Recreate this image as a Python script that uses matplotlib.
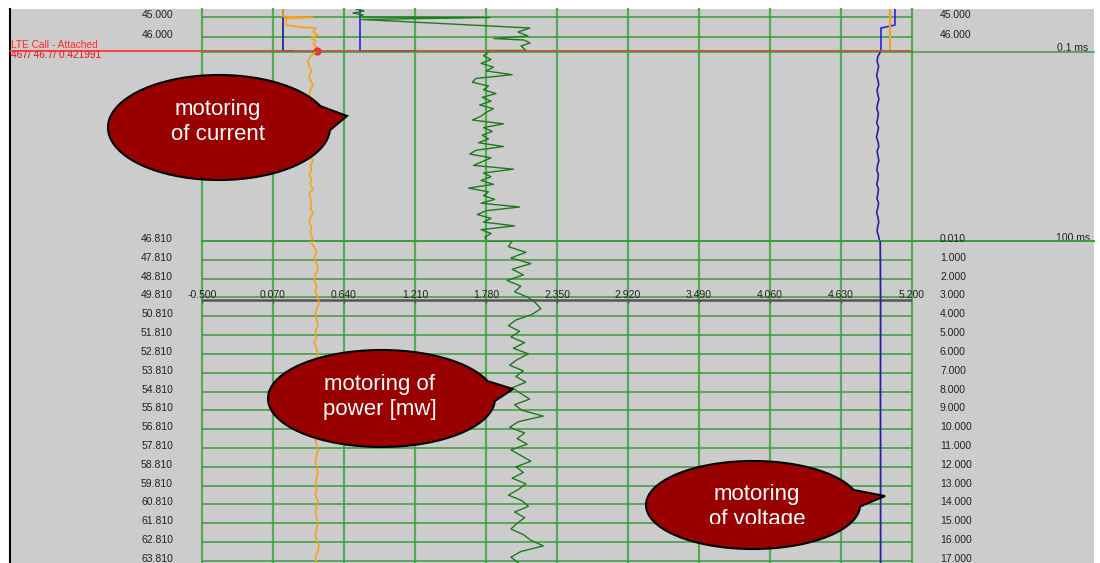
"""
Drive-test trace view: motoring of current, power and voltage
"""
import numpy as np
import matplotlib.pyplot as plt
from matplotlib.patches import Polygon, Rectangle

plt.rcParams['font.family'] = ['Liberation Sans', 'DejaVu Sans']

# ---- scales / labels ----
x_ticks = [-0.5, 0.07, 0.64, 1.21, 1.78, 2.35, 2.92, 3.49, 4.06, 4.63, 5.2]
top_ticks = [45.0, 46.0]
bot_ticks = [46.81, 47.81, 48.81, 49.81, 50.81, 51.81, 52.81, 53.81, 54.81,
             55.81, 56.81, 57.81, 58.81, 59.81, 60.81, 61.81, 62.81, 63.81]
right_labels = ['0.010', '1.000', '2.000', '3.000', '4.000', '5.000', '6.000',
                '7.000', '8.000', '9.000', '10.000', '11.000', '12.000',
                '13.000', '14.000', '15.000', '16.000', '17.000']
event_name = 'LTE Call - Attached'
event_sample = 467
event_time = 46.7
event_current = 0.421991

# ---- top section (time 44.6 .. 46.7) ----
orange_top_t = [44.59, 44.975, 45.025, 45.076, 45.41, 45.51, 45.56, 45.76,
                45.91, 46.07, 46.22, 46.37, 46.52, 46.70]
orange_top_x = [0.150, 0.150, 0.391, 0.174, 0.174, 0.287, 0.415, 0.391,
                0.431, 0.375, 0.415, 0.391, 0.415, 0.415]
green_top_t = [44.594, 44.695, 44.797, 44.898, 45.0, 45.025, 45.127, 45.558,
               45.761, 45.964, 46.091, 46.168, 46.32, 46.472, 46.70, 46.70]
green_top_x = [0.736, 0.801, 0.712, 0.793, 0.768, 1.812, 0.784, 2.133,
               2.037, 2.117, 1.844, 2.085, 2.133, 2.061, 2.101, 1.788]
blue_top_t = [44.59, 45.41, 45.56, 46.70]
blue_top_x = [5.063, 5.063, 4.951, 4.951]
blue_a_t = [44.59, 46.70, 46.70]
blue_a_x = [0.150, 0.150, 0.231]
blue_b_t = [44.59, 46.70, 46.70]
blue_b_x = [0.768, 0.768, 1.210]
orange_r_t = [44.59, 46.70]
orange_r_x = [5.023, 5.023]

# ---- zoomed section (0 .. 100 ms) ----
mid_ms_a = np.arange(0, 101, 2.5)
mid_ms_b = np.arange(0, 101, 2)
orange_mid = [0.41, 0.37, 0.35, 0.36, 0.38, 0.36, 0.37, 0.39, 0.37, 0.36,
              0.38, 0.37, 0.39, 0.36, 0.37, 0.38, 0.36, 0.38, 0.37, 0.39,
              0.38, 0.36, 0.37, 0.39, 0.37, 0.38, 0.36, 0.38, 0.37, 0.39,
              0.36, 0.37, 0.38, 0.37, 0.39, 0.37, 0.36, 0.38, 0.37, 0.38, 0.39]
blue_mid = [4.945, 4.925, 4.920, 4.932, 4.924, 4.916, 4.927, 4.933, 4.919, 4.926,
            4.934, 4.924, 4.918, 4.930, 4.925, 4.917, 4.931, 4.924, 4.915, 4.927,
            4.933, 4.920, 4.926, 4.934, 4.923, 4.918, 4.930, 4.925, 4.917, 4.931,
            4.926, 4.919, 4.932, 4.925, 4.916, 4.927, 4.933, 4.924, 4.920, 4.932, 4.940]
green_mid = [1.80, 1.76, 1.82, 1.74, 1.84, 1.78, 1.99, 1.70, 1.67, 1.80,
             1.76, 1.86, 1.75, 1.82, 1.73, 1.84, 1.78, 1.74, 1.67, 1.92,
             1.76, 1.83, 1.75, 1.80, 1.72, 1.92, 1.70, 1.65, 1.82, 1.75,
             1.68, 2.00, 1.76, 1.82, 1.74, 1.84, 1.64, 1.80, 1.76, 1.85,
             1.74, 2.05, 1.78, 1.71, 1.82, 1.76, 2.01, 1.74, 1.82, 1.77, 1.79]

# ---- bottom section (time 46.81 .. 63.9) ----
bot_t = np.round(46.81 + 0.3 * np.arange(58), 2)
orange_bot = [0.37, 0.40, 0.42, 0.40, 0.42, 0.43, 0.41, 0.40, 0.42, 0.41,
              0.43, 0.44, 0.42, 0.41, 0.42, 0.43, 0.41, 0.42, 0.40, 0.42,
              0.43, 0.41, 0.42, 0.43, 0.42, 0.41, 0.43, 0.42, 0.41, 0.42,
              0.43, 0.42, 0.41, 0.42, 0.43, 0.41, 0.42, 0.43, 0.42, 0.41,
              0.42, 0.43, 0.42, 0.41, 0.42, 0.41, 0.43, 0.42, 0.41, 0.42,
              0.43, 0.42, 0.41, 0.42, 0.44, 0.43, 0.41, 0.42]
green_bot = [1.99, 1.96, 2.10, 1.98, 2.14, 1.99, 2.08, 1.95, 2.06, 2.01,
             2.12, 2.18, 2.22, 2.15, 2.02, 1.96, 2.05, 1.98, 2.09, 2.00,
             2.12, 2.03, 1.97, 2.08, 2.02, 2.10, 1.99, 2.06, 2.13, 2.01,
             2.07, 2.24, 2.04, 1.97, 2.09, 2.03, 2.11, 1.98, 2.06, 2.14,
             2.02, 2.08, 1.99, 2.10, 2.04, 1.96, 2.07, 2.12, 2.01, 2.09,
             2.03, 1.98, 2.08, 2.14, 2.24, 2.06, 1.98, 2.04]
blue_bot_t = [46.81, 50.0, 55.0, 60.0, 63.92]
blue_bot_x = [4.945, 4.948, 4.947, 4.948, 4.948]

# ---- styles ----
GRAY = '#cccccc'
GRID_V = '#55aa55'
GRID_H = '#3d9b3d'
ORANGE = '#f7a21b'
GREEN = '#1d7a1d'
BLUE = '#24249e'
BLUE2 = '#3030e0'
RED = '#ff2a2a'
BUBBLE = '#990000'
LBL = dict(fontsize=7.5, color='#222222')

W, H = 1100, 563
fig = plt.figure(figsize=(11, 5.63), dpi=100)
fig.patch.set_facecolor('white')


def rect(x0, y0, x1, y1):
    return [x0 / W, 1 - y1 / H, (x1 - x0) / W, (y1 - y0) / H]


bg = fig.add_axes([0, 0, 1, 1], zorder=0)
bg.set_xlim(0, W)
bg.set_ylim(H, 0)
bg.axis('off')
bg.add_patch(Rectangle((10, 9), 1084, H, color=GRAY, lw=0))
bg.plot([10, 10], [9, H], color='black', lw=1.5)

PX0, PX1 = 202, 912
ext = (1094 - PX0) / (PX1 - PX0)   # gridlines running out to the right edge
ax_top = fig.add_axes(rect(PX0, 9, PX1, 52), zorder=1)
ax_mid = fig.add_axes(rect(PX0, 52, PX1, 241), zorder=1)
ax_bot = fig.add_axes(rect(PX0, 241, PX1, 563), zorder=1)
ax_top.set_ylim(46.776, 44.594)
ax_mid.set_ylim(100, 0)
ax_bot.set_ylim(46.81 + 322 / 18.82, 46.81)
for ax in (ax_top, ax_mid, ax_bot):
    ax.set_xlim(x_ticks[0], x_ticks[-1])
    ax.axis('off')
    for v in x_ticks:
        ax.axvline(v, color=GRID_V, lw=1.6, clip_on=False, zorder=1)

for t in top_ticks:
    ax_top.axhline(t, color=GRID_H, lw=1.1, zorder=1)
ax_mid.axhline(0, xmax=ext, color=GRID_H, lw=1.1, clip_on=False, zorder=1)
ax_bot.axhline(bot_ticks[0], xmax=ext, color=GRID_H, lw=1.4, clip_on=False, zorder=1)
for t in bot_ticks[1:]:
    ax_bot.axhline(t, color=GRID_H, lw=1.1, zorder=1)

# x axis line with tick labels
ax_bot.axhline(49.97, color='#555555', lw=1.8, zorder=2)
ax_bot.vlines(x_ticks, 49.97, 50.12, color='#555555', lw=1, zorder=2)
for v in x_ticks:
    ax_bot.text(v, 49.70, f'{v:.3f}', ha='center', va='center', zorder=3, **LBL)

# y labels, left and right
xl = (173 - PX0) / (PX1 - PX0)
xr = (940 - PX0) / (PX1 - PX0)
for t in top_ticks:
    ax_top.text(xl, t - 0.1, f'{t:.3f}', transform=ax_top.get_yaxis_transform(),
                ha='right', va='center', **LBL)
    ax_top.text(xr, t - 0.1, f'{t:.3f}', transform=ax_top.get_yaxis_transform(),
                ha='left', va='center', **LBL)
for t, r in zip(bot_ticks, right_labels):
    ax_bot.text(xl, t - 0.106, f'{t:.3f}', transform=ax_bot.get_yaxis_transform(),
                ha='right', va='center', **LBL)
    ax_bot.text(xr, t - 0.106, r, transform=ax_bot.get_yaxis_transform(),
                ha='left', va='center', **LBL)

# traces
ax_top.plot(blue_a_x, blue_a_t, color=BLUE, lw=1.3, zorder=3)
ax_top.plot(blue_b_x, blue_b_t, color=BLUE2, lw=1.3, zorder=3)
ax_top.plot(orange_top_x, orange_top_t, color=ORANGE, lw=1.2, zorder=4)
ax_top.plot(green_top_x, green_top_t, color=GREEN, lw=1.0, zorder=3)
ax_top.plot(blue_top_x, blue_top_t, color=BLUE2, lw=1.3, zorder=3)
ax_top.plot(orange_r_x, orange_r_t, color=ORANGE, lw=1.6, zorder=3)

ax_mid.plot(orange_mid, mid_ms_a, color=ORANGE, lw=1.2, zorder=3)
ax_mid.plot(green_mid, mid_ms_b, color=GREEN, lw=1.0, zorder=3)
ax_mid.plot(blue_mid, mid_ms_a, color=BLUE, lw=1.2, zorder=3)

ax_bot.plot(np.r_[orange_mid[-1], orange_bot], np.r_[46.81, bot_t], color=ORANGE, lw=1.2, zorder=3)
ax_bot.plot(np.r_[green_mid[-1], green_bot], np.r_[46.81, bot_t], color=GREEN, lw=1.0, zorder=3)
ax_bot.plot(blue_bot_x, blue_bot_t, color=BLUE, lw=1.3, zorder=3)

# event marker line
ax_top.axhline(event_time, xmin=(10 - PX0) / (PX1 - PX0), xmax=1, color=RED,
               lw=1.2, clip_on=False, zorder=5)
ax_top.plot([event_current], [event_time], 'o', color=RED, ms=5, zorder=6, clip_on=False)
bg.text(11, 45, event_name, color=RED, fontsize=7.3, va='center')
bg.text(11, 55.5, f'{event_sample}/ {event_time}/ {event_current}', color='#ee1111',
        fontsize=7.3, va='center')
bg.text(1088, 48, '0.1 ms', ha='right', va='center', **LBL)
bg.text(1090, 238, '100 ms', ha='right', va='center', **LBL)

# callouts
ov = fig.add_axes([0, 0, 1, 1], zorder=5)
ov.set_xlim(0, W)
ov.set_ylim(H, 0)
ov.axis('off')


def bubble(cx, cy, a, b, ang1, ang2, tip, text, tx, ty, clip=None):
    th = np.radians(np.linspace(ang2, ang1 + 360, 200))
    pts = np.c_[cx + a * np.cos(th), cy + b * np.sin(th)]
    pts = np.vstack([pts, tip])
    ov.add_patch(Polygon(pts, closed=True, facecolor=BUBBLE, edgecolor='black', lw=1.5))
    txt = ov.text(tx, ty, text, color='white', fontsize=16, ha='center', va='center',
                  linespacing=1.2)
    if clip is not None:
        txt.set_clip_on(True)
        txt.set_clip_path(Rectangle(clip[:2], clip[2], clip[3], transform=ov.transData))


bubble(219, 127.5, 111, 52.5, -24, 3, (347, 116), 'motoring\nof current', 218, 122)
bubble(381.5, 398.5, 113.5, 48.5, -21, 3, (513, 389), 'motoring of\npower [mw]', 380, 397)
bubble(753, 505, 107, 44, -20, 2, (885, 496), 'motoring\nof voltage', 757, 507,
       clip=(650, 462, 210, 62))

fig.savefig('out.png', dpi=100)
